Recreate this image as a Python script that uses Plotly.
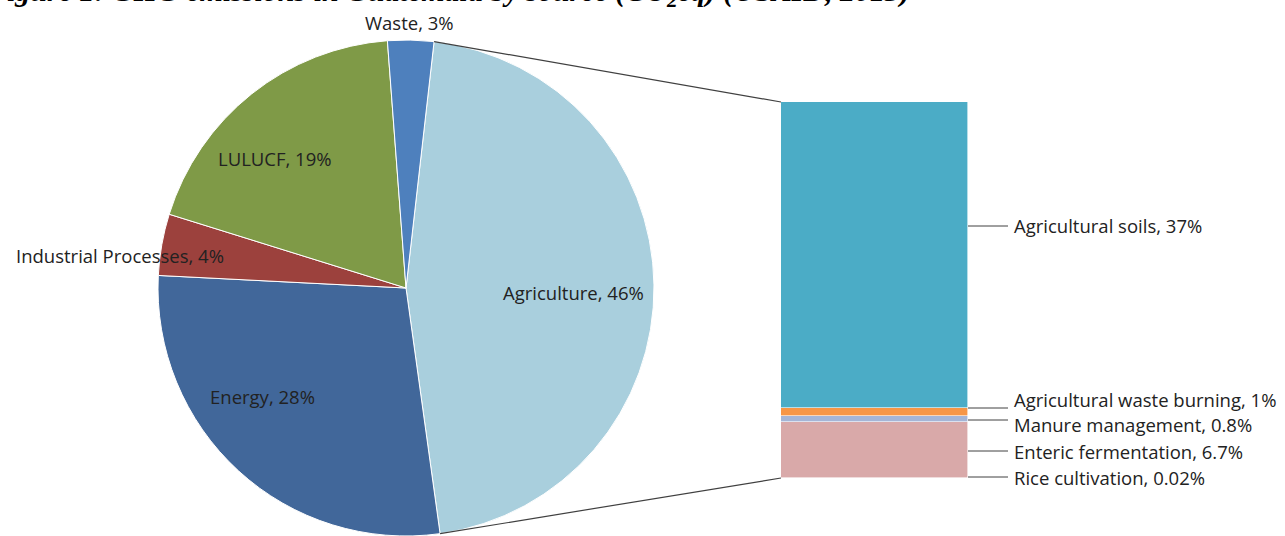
import math
import plotly.graph_objects as go

# ---------------- data ----------------
sources = ["Agriculture", "Energy", "Industrial Processes", "LULUCF", "Waste"]
source_share = [46, 28, 4, 19, 3]
source_colors = ["#A9CFDD", "#41679A", "#9C413D", "#7F9A47", "#4E80BD"]

agri_sub = ["Rice cultivation", "Enteric fermentation", "Manure management",
            "Agricultural waste burning", "Agricultural soils"]
agri_share = [0.02, 6.7, 0.8, 1, 37]
agri_text = ["0.02%", "6.7%", "0.8%", "1%", "37%"]
agri_colors = ["#C3D69B", "#D9A9A9", "#A5B5D6", "#F79646", "#4BACC6"]

title = "Figure 1: GHG emissions in Guatemala by source (CO<sub>2</sub>eq) (USAID, 2013)"

# ---------------- layout geometry (pixels) ----------------
W, H = 1285, 536
cx, cy, r = 406, 288, 248
rotation = 6.5
bar_left, bar_right, bar_top, bar_bottom = 781, 968, 102, 478

# pie label anchor positions (pixel centres)
pie_label_pos = {
    "Agriculture": (573, 292),
    "Energy": (262, 397),
    "Industrial Processes": (120, 255),
    "LULUCF": (275, 158),
    "Waste": (410, 23),
}
# bar label leader line y / text y (pixels)
bar_line_y = [477, 451, 420, 408, 226]
bar_text_y = [477, 451, 424, 399, 226]

FONT = "Open Sans"
FS = 18.5
TXT = "#222222"


def fx(p):
    return p / W


def fy(p):
    return 1 - p / H


fig = go.Figure()

fig.add_trace(go.Pie(
    labels=sources, values=source_share, sort=False, direction="clockwise",
    rotation=rotation, textinfo="none", hoverinfo="label+percent",
    marker=dict(colors=source_colors, line=dict(color="white", width=1)),
    domain=dict(x=[fx(cx - r), fx(cx + r)], y=[fy(cy + r), fy(cy - r)]),
    showlegend=False,
))

for name, val, col in zip(agri_sub, agri_share, agri_colors):
    fig.add_trace(go.Bar(
        x=[0], y=[val], width=1, name=name, marker=dict(color=col, line=dict(color="white", width=0.6)),
        xaxis="x", yaxis="y", showlegend=False,
    ))

total_agri = sum(agri_share)

annotations = []
for name, val in zip(sources, source_share):
    px, py = pie_label_pos[name]
    annotations.append(dict(
        x=fx(px), y=fy(py), xref="paper", yref="paper", xanchor="center", yanchor="middle",
        text=f"{name}, {val}%", showarrow=False, font=dict(family=FONT, size=FS, color=TXT)))

shapes = []
for name, txt, ly, ty in zip(agri_sub, agri_text, bar_line_y, bar_text_y):
    shapes.append(dict(type="line", xref="paper", yref="paper",
                       x0=fx(bar_right), x1=fx(1008), y0=fy(ly), y1=fy(ly),
                       line=dict(color="#404040", width=1)))
    annotations.append(dict(
        x=fx(1012), y=fy(ty), xref="paper", yref="paper", xanchor="left", yanchor="middle",
        text=f"{name}, {txt}", showarrow=False, font=dict(family=FONT, size=FS, color=TXT)))

# connector lines from agriculture slice edges to bar corners
a0 = math.radians(rotation)
a1 = math.radians(rotation + source_share[0] / sum(source_share) * 360)
p0 = (cx + r * math.sin(a0), cy - r * math.cos(a0))
p1 = (cx + r * math.sin(a1), cy - r * math.cos(a1))
for (px, py), by in ((p0, bar_top), (p1, bar_bottom)):
    shapes.append(dict(type="line", xref="paper", yref="paper",
                       x0=fx(px), y0=fy(py), x1=fx(bar_left), y1=fy(by),
                       line=dict(color="#404040", width=1.2)))

annotations.append(dict(
    x=fx(-16), y=fy(-7), xref="paper", yref="paper", xanchor="left", yanchor="middle",
    text=f"<b><i>{title}</i></b>", showarrow=False,
    font=dict(family="Liberation Serif", size=30, color="#000000")))

fig.update_layout(
    width=W, height=H, margin=dict(l=0, r=0, t=0, b=0),
    paper_bgcolor="white", plot_bgcolor="white", barmode="stack",
    xaxis=dict(domain=[fx(bar_left), fx(bar_right)], range=[-0.5, 0.5], visible=False, fixedrange=True),
    yaxis=dict(domain=[fy(bar_bottom), fy(bar_top)], range=[0, total_agri], visible=False, fixedrange=True),
    annotations=annotations, shapes=shapes, bargap=0,
)

fig.write_html("out.html")
